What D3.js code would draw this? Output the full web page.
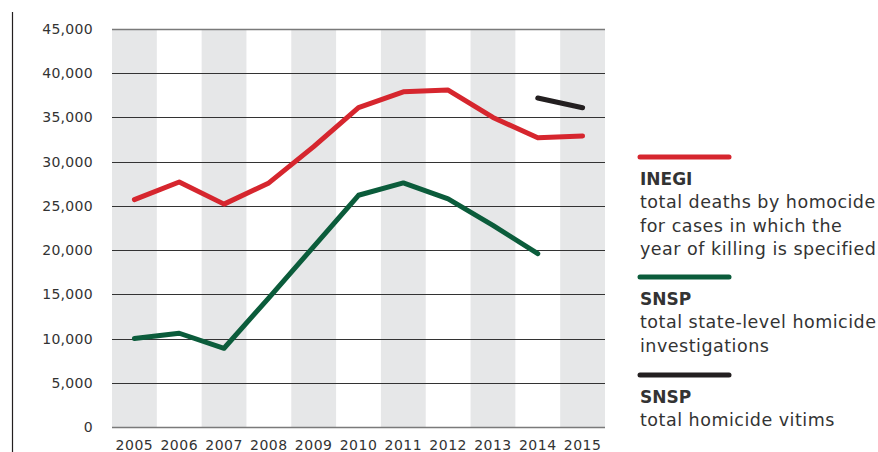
<!DOCTYPE html>
<html>
<head>
<meta charset="utf-8">
<script src="https://cdn.jsdelivr.net/npm/d3@7"></script>
<style>
	body { margin: 0; background: #fff; }
	svg { display: block; }
	text { font-family: "DejaVu Sans", sans-serif; fill: #333; }
</style>
</head>
<body>
<div id="content"></div>
<script>
var years = [2005, 2006, 2007, 2008, 2009, 2010, 2011, 2012, 2013, 2014, 2015];

var inegi = [25700, 27700, 25200, 27600, 31700, 36100, 37900, 38100, 35000, 32700, 32900];
var snspInvestigations = [10000, 10600, 8900, 14600, 20400, 26200, 27600, 25800, 22800, 19600, null];
var snspVictims = [null, null, null, null, null, null, null, null, null, 37200, 36100];

var yTicks = [0, 5000, 10000, 15000, 20000, 25000, 30000, 35000, 40000, 45000];

var legendItems = [
	{ name: "INEGI", color: "#d6262e", lines: ["total deaths by homocide", "for cases in which the", "year of killing is specified"] },
	{ name: "SNSP", color: "#0b5c3b", lines: ["total state-level homicide", "investigations"] },
	{ name: "SNSP", color: "#231f20", lines: ["total homicide vitims"] }
];

var chartW = 878, chartH = 452;
var plotLeft = 112, plotRight = 605, plotTop = 29, plotBottom = 427;

var svg = d3.select("#content").append("svg")
	.attr("width", chartW).attr("height", chartH);

var x = d3.scaleBand().domain(years).range([plotLeft, plotRight]).padding(0);
var y = d3.scaleLinear().domain([0, 45000]).range([plotBottom, plotTop]);

// alternating grey columns
svg.selectAll("rect.band").data(years.filter(function (d, i) { return i % 2 == 0; }))
	.enter().append("rect")
	.attr("class", "band")
	.attr("x", function (d) { return x(d); })
	.attr("y", plotTop)
	.attr("width", x.bandwidth())
	.attr("height", plotBottom - plotTop)
	.attr("fill", "#e6e7e8");

// gridlines
svg.selectAll("line.grid").data(yTicks)
	.enter().append("line")
	.attr("class", "grid")
	.attr("x1", plotLeft).attr("x2", plotRight)
	.attr("y1", function (d) { return Math.round(y(d)) + 0.5; })
	.attr("y2", function (d) { return Math.round(y(d)) + 0.5; })
	.attr("stroke", function (d) { return (d == 0 || d == 45000) ? "#7a7a7a" : "#333"; })
	.attr("stroke-width", function (d) { return (d == 0 || d == 45000) ? 1.6 : 1.2; });

// y labels
var yAxis = d3.axisLeft(y).tickValues(yTicks).tickSize(0).tickPadding(0)
	.tickFormat(function (d) { return d == 0 ? "0" : d3.format(",")(d); });
var gy = svg.append("g").attr("transform", "translate(93,0)").call(yAxis);
gy.select(".domain").remove();
gy.selectAll("text").attr("font-size", 14).attr("font-family", "DejaVu Sans")
	.attr("fill", "#333").attr("letter-spacing", 0.3);

// x labels
var xAxis = d3.axisBottom(x).tickSize(0).tickPadding(0);
var gx = svg.append("g").attr("transform", "translate(0,440)").call(xAxis);
gx.select(".domain").remove();
gx.selectAll("text").attr("font-size", 14).attr("font-family", "DejaVu Sans")
	.attr("fill", "#333").attr("letter-spacing", 0.5);

// left rule
svg.append("line")
	.attr("x1", 12.5).attr("x2", 12.5)
	.attr("y1", 12).attr("y2", chartH)
	.attr("stroke", "#231f20").attr("stroke-width", 1.2);

var line = d3.line()
	.defined(function (d) { return d != null; })
	.x(function (d, i) { return x(years[i]) + x.bandwidth() / 2; })
	.y(function (d) { return y(d); });

var series = [
	{ values: inegi, color: legendItems[0].color },
	{ values: snspInvestigations, color: legendItems[1].color },
	{ values: snspVictims, color: legendItems[2].color }
];

svg.selectAll("path.series").data(series)
	.enter().append("path")
	.attr("class", "series")
	.attr("d", function (d) { return line(d.values); })
	.attr("fill", "none")
	.attr("stroke", function (d) { return d.color; })
	.attr("stroke-width", 5)
	.attr("stroke-linecap", "round")
	.attr("stroke-linejoin", "round");

// legend
var legendTop = [157, 277, 375];
var legend = svg.selectAll("g.legend").data(legendItems)
	.enter().append("g")
	.attr("class", "legend")
	.attr("transform", function (d, i) { return "translate(640," + legendTop[i] + ")"; });

legend.append("line")
	.attr("x1", 0).attr("x2", 89)
	.attr("y1", 0).attr("y2", 0)
	.attr("stroke", function (d) { return d.color; })
	.attr("stroke-width", 5)
	.attr("stroke-linecap", "round");

legend.append("text")
	.attr("x", 0).attr("y", 28)
	.attr("font-size", 17).attr("font-weight", "bold")
	.attr("fill", "#231f20")
	.text(function (d) { return d.name; });

legend.each(function (d) {
	d3.select(this).selectAll("text.desc").data(d.lines)
		.enter().append("text")
		.attr("class", "desc")
		.attr("x", 0)
		.attr("y", function (t, j) { return 51 + j * 23.5; })
		.attr("font-size", 17.5)
		.attr("letter-spacing", 0.5)
		.attr("fill", "#333")
		.text(function (t) { return t; });
});
</script>
</body>
</html>
